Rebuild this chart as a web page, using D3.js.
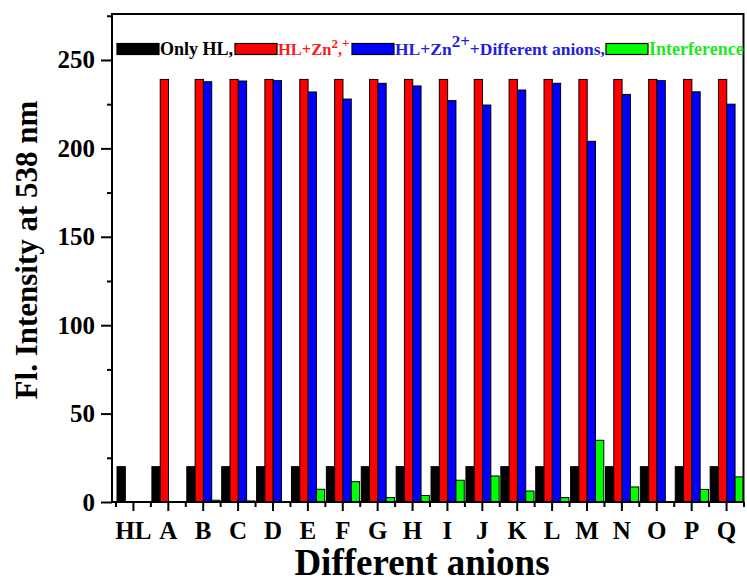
<!DOCTYPE html>
<html>
<head>
<meta charset="utf-8">
<script src="https://cdn.jsdelivr.net/npm/d3@7"></script>
<style>
  html, body { margin: 0; padding: 0; background: #fff; }
  svg { display: block; font-family: "Liberation Serif", "Times New Roman", serif; font-weight: bold; }
</style>
</head>
<body>
<svg id="chart" width="747" height="584"></svg>
<script>
// Fluorescence intensity at 538 nm for HL with Zn2+ and various anions
const categories = ["HL","A","B","C","D","E","F","G","H","I","J","K","L","M","N","O","P","Q"];
const onlyHL = [20,20,20,20,20,20,20,20,20,20,20,20,20,20,20,20,20,20];
const hlZn = [0,239,239,239,239,239,239,239,239,239,239,239,239,239,239,239,239,239];
const hlZnAnion = [0,0,237.7,238.1,238.3,231.9,227.9,236.8,235.3,227,224.5,233,236.8,204,230.5,238.3,232,225];
const interference = [0,0,1.0,0.6,0,7.2,11.5,2.5,3.7,12.3,14.7,6.2,2.5,34.9,8.5,0,7.1,14.2];
const yTicks = [0,50,100,150,200,250];

const series = [
  {name: "onlyHL", values: onlyHL, fill: "#000000"},
  {name: "hlZn", values: hlZn, fill: "#ff0000"},
  {name: "hlZnAnion", values: hlZnAnion, fill: "#0000ff"},
  {name: "interference", values: interference, fill: "#00ff00"}
];

const svg = d3.select("#chart");
const plotL = 112, plotR = 743.5, plotT = 14, plotB = 502;

const x = d3.scaleLinear().domain([-0.6, 17.5]).range([plotL, plotR]);
const y = d3.scaleLinear().domain([0, 276]).range([plotB, plotT]);
const bw = 0.238; // bar width in category units

// bars
series.forEach((s, si) => {
  svg.append("g").selectAll("rect")
    .data(s.values.map((v, i) => ({v, i})).filter(d => d.v > 0))
    .join("rect")
    .attr("x", d => x(d.i + (si - 2) * bw + 0.02))
    .attr("width", x(bw) - x(0))
    .attr("y", d => y(d.v))
    .attr("height", d => y(0) - y(d.v))
    .attr("fill", s.fill)
    .attr("stroke", "#000")
    .attr("stroke-width", 1);
});

// y axis: major ticks with labels, minor ticks in between
const yAxis = svg.append("g").attr("transform", `translate(${plotL},0)`)
  .call(d3.axisLeft(y).tickValues(yTicks).tickSize(11).tickPadding(6).tickFormat(d3.format("d")));
svg.append("g").attr("transform", `translate(${plotL},0)`)
  .call(d3.axisLeft(y).tickValues([25,75,125,175,225,275]).tickSize(5).tickFormat(""))
  .select(".domain").remove();

// x axis: labelled category ticks, minor ticks at boundaries
const xAxis = svg.append("g").attr("transform", `translate(0,${plotB})`)
  .call(d3.axisBottom(x).tickValues(d3.range(categories.length)).tickSize(9).tickPadding(10)
    .tickFormat(i => categories[i]));
svg.append("g").attr("transform", `translate(0,${plotB})`)
  .call(d3.axisBottom(x).tickValues(d3.range(categories.length + 1).map(i => i - 0.5)).tickSize(5).tickFormat(""))
  .select(".domain").remove();

svg.selectAll(".domain").remove();
svg.selectAll(".tick line").attr("stroke", "#000").attr("stroke-width", 2);
yAxis.selectAll(".tick text").attr("font-size", 25).attr("font-family", "Liberation Serif").attr("font-weight", "bold").attr("fill", "#000");
xAxis.selectAll(".tick text").attr("font-size", 25).attr("font-family", "Liberation Serif").attr("font-weight", "bold").attr("fill", "#000");

// frame
svg.append("rect")
  .attr("x", plotL).attr("y", plotT)
  .attr("width", plotR - plotL).attr("height", plotB - plotT)
  .attr("fill", "none").attr("stroke", "#000").attr("stroke-width", 2);

// axis titles
svg.append("text")
  .attr("transform", `translate(37,250) rotate(-90)`)
  .attr("text-anchor", "middle")
  .attr("font-size", 31)
  .text("Fl. Intensity at 538 nm");

svg.append("text")
  .attr("x", 422).attr("y", 575)
  .attr("text-anchor", "middle")
  .attr("font-size", 37)
  .text("Different anions");

// legend
const legendY = 43.5, swW = 42, swH = 11;
const legend = svg.append("g").attr("font-size", 18);
function entry(sx, fill, color, parts, size) {
  legend.append("rect")
    .attr("x", sx).attr("y", legendY).attr("width", swW).attr("height", swH)
    .attr("fill", fill).attr("stroke", "#000").attr("stroke-width", 1.2);
  const t = legend.append("text").attr("x", sx + swW + 1).attr("y", legendY + swH + 0.5)
    .attr("fill", color).attr("font-size", size);
  parts.forEach(p => {
    const ts = t.append("tspan").text(p.t);
    if (p.size) ts.attr("font-size", p.size);
    if (p.dy) ts.attr("dy", p.dy);
  });
}
entry(117, "#000000", "#000000", [{t: "Only HL,"}], 18);
entry(235, "#ff0000", "#ff1a1a",
  [{t: "HL+Zn"}, {t: "2", size: 13, dy: -7}, {t: ",", dy: 7}, {t: "+", size: 13, dy: -8}], 16.5);
entry(352, "#0000ff", "#1f1fdc",
  [{t: "HL+Zn"}, {t: "2+", size: 17, dy: -8}, {t: "+Different anions,", dy: 8}], 17.5);
entry(606, "#00ff00", "#1ee81e", [{t: "Interference"}], 18);
</script>
</body>
</html>
